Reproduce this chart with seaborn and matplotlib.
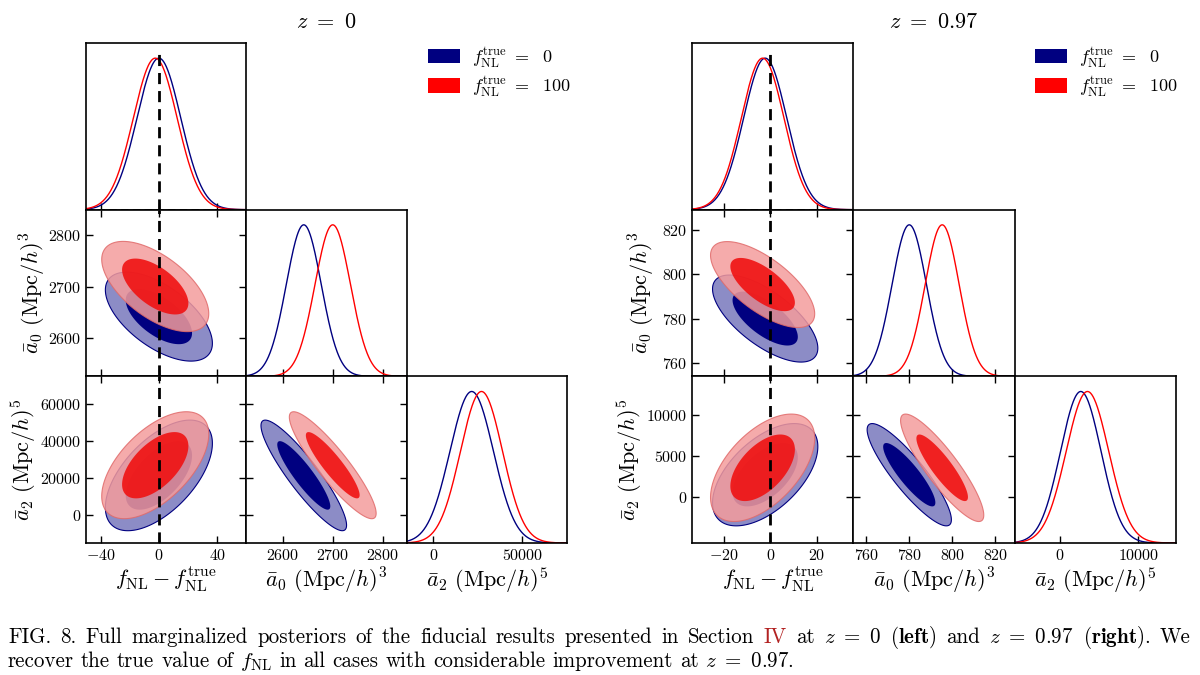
import numpy as np
import matplotlib
matplotlib.use("Agg")
import matplotlib.pyplot as plt
from matplotlib.patches import Patch
import seaborn as sns

# parameter order: fNL - fNL_true, a0, a2
# means, 1-sigma widths and correlations (fnl-a0, fnl-a2, a0-a2)
z0_mean_f0 = [0.0, 2642.0, 21500.0]
z0_sig_f0 = [15.0, 35.0, 12200.0]
z0_rho_f0 = [-0.6, 0.58, -0.9]
z0_mean_f100 = [-2.5, 2700.0, 27000.0]
z0_sig_f100 = [15.0, 35.5, 11800.0]
z0_rho_f100 = [-0.6, 0.58, -0.9]

z097_mean_f0 = [-2.2, 780.0, 2700.0]
z097_sig_f0 = [9.2, 8.0, 2570.0]
z097_rho_f0 = [-0.68, 0.55, -0.88]
z097_mean_f100 = [-3.3, 795.3, 3550.0]
z097_sig_f100 = [9.1, 7.9, 2700.0]
z097_rho_f100 = [-0.68, 0.55, -0.88]

z0_limits = [(-50, 60), (2527, 2848), (-15000, 75000)]
z0_xticks = [[-40, 0, 40], [2600, 2700, 2800], [0, 50000]]
z0_yticks = [[], [2600, 2700, 2800], [0, 20000, 40000, 60000]]

z097_limits = [(-33.5, 35.5), (754, 829), (-5700, 14800)]
z097_xticks = [[-20, 0, 20], [760, 780, 800, 820], [0, 10000]]
z097_yticks = [[], [760, 780, 800, 820], [0, 5000, 10000]]

labels = [r"$f_{\rm NL} - f_{\rm NL}^{\rm true}$",
          r"$\bar{a}_0\ (\mathrm{Mpc}/h)^3$",
          r"$\bar{a}_2\ (\mathrm{Mpc}/h)^5$"]
legend_labels = [r"$f_{\rm NL}^{\rm true}\ =\ \ 0$", r"$f_{\rm NL}^{\rm true}\ =\ \ 100$"]

caption_1 = ("FIG. 8. Full marginalized posteriors of the fiducial results presented in Section IV "
             r"at $z\ =\ 0$ ($\mathbf{left}$) and $z\ =\ 0.97$ ($\mathbf{right}$). We")
caption_2 = (r"recover the true value of $f_{\rm NL}$ in all cases with considerable "
             r"improvement at $z\ =\ 0.97$.")

# 68% and 95% levels of a 2D gaussian
levels = [np.sqrt(2.30), np.sqrt(5.99)]

navy = "#000080"
red = "#ff0000"
styles = {
    "f0": dict(line=navy, outer="#8c8cc6", outer_a=1.0, outer_ec=navy,
               inner=navy, inner_a=1.0),
    "f100": dict(line=red, outer="#f49c9c", outer_a=0.85, outer_ec="#e06a6a",
                 inner="#f01212", inner_a=0.9),
}

sns.set_style("ticks")
plt.rcParams.update({
    "font.family": "serif",
    "font.serif": ["cmr10", "DejaVu Serif"],
    "mathtext.fontset": "cm",
    "axes.formatter.use_mathtext": True,
    "axes.linewidth": 1.2,
    "axes.edgecolor": "black",
    "axes.labelcolor": "black",
    "text.color": "black",
    "xtick.color": "black",
    "ytick.color": "black",
})


def ellipse(mx, my, sx, sy, rho, r):
    t = np.linspace(0, 2 * np.pi, 240)
    u, v = r * np.cos(t), r * np.sin(t)
    return mx + sx * u, my + sy * (rho * u + np.sqrt(1 - rho ** 2) * v)


def corner(fig, left, right, runs, limits, xticks, yticks, ylab_x):
    gs = fig.add_gridspec(3, 3, left=left, right=right, top=1 - 43 / 675,
                          bottom=1 - 543 / 675, wspace=0, hspace=0)
    pair = {(0, 1): 0, (0, 2): 1, (1, 2): 2}
    for i in range(3):
        for j in range(i + 1):
            ax = fig.add_subplot(gs[i, j])
            ax.set_xlim(limits[j])
            if i == j:
                x = np.linspace(limits[j][0], limits[j][1], 400)
                for key, (mean, sig, rho) in runs:
                    y = np.exp(-0.5 * ((x - mean[j]) / sig[j]) ** 2)
                    sns.lineplot(x=x, y=y, ax=ax, color=styles[key]["line"],
                                 lw=1.0, errorbar=None)
                ax.set_ylim(0, 1.1)
                ax.set_yticks([])
                ax.set_xticks(xticks[j])
                ax.tick_params(axis="x", direction="in", length=5, width=1,
                               labelsize=11.5, bottom=True, top=False)
            else:
                for key, (mean, sig, rho) in runs:
                    st = styles[key]
                    r = rho[pair[(j, i)]]
                    xo, yo = ellipse(mean[j], mean[i], sig[j], sig[i], r, levels[1])
                    xi, yi = ellipse(mean[j], mean[i], sig[j], sig[i], r, levels[0])
                    ax.fill(xo, yo, fc=st["outer"], alpha=st["outer_a"],
                            ec=st["outer_ec"], lw=0.8)
                    ax.fill(xi, yi, fc=st["inner"], alpha=st["inner_a"], lw=0)
                ax.set_ylim(limits[i])
                ax.set_xticks(xticks[j])
                ax.set_yticks(yticks[i])
                ax.tick_params(direction="in", length=5, width=1, labelsize=11.5,
                               top=True, right=True, bottom=True, left=True)
            ax.ticklabel_format(useOffset=False, style="plain")
            if j == 0:
                ax.axvline(0, color="k", ls=(0, (4, 2.5)), lw=2,
                           ymax=0.97 if i == 0 else 1, zorder=5)
                if i == 0:
                    ax.axhline(0, color="k", ls=(0, (4, 2.5)), lw=1.3, zorder=5)
            if i == 2:
                ax.set_xlabel(labels[j], fontsize=16, labelpad=2)
            else:
                ax.set_xticklabels([])
            if j == 0 and i > 0:
                ax.set_ylabel(labels[i], fontsize=16)
                ax.yaxis.set_label_coords(ylab_x[i - 1], 0.5)
            elif i != j:
                ax.set_yticklabels([])
            for s in ax.spines.values():
                s.set_visible(True)
                s.set_color("black")
                s.set_linewidth(1.2)


fig = plt.figure(figsize=(12, 6.75), dpi=100)

left_runs = [("f0", (z0_mean_f0, z0_sig_f0, z0_rho_f0)),
             ("f100", (z0_mean_f100, z0_sig_f100, z0_rho_f100))]
right_runs = [("f0", (z097_mean_f0, z097_sig_f0, z097_rho_f0)),
              ("f100", (z097_mean_f100, z097_sig_f100, z097_rho_f100))]

corner(fig, 86 / 1200, 567 / 1200, left_runs, z0_limits, z0_xticks, z0_yticks,
       [-0.24, -0.3])
corner(fig, 692 / 1200, 1176 / 1200, right_runs, z097_limits, z097_xticks, z097_yticks,
       [-0.215, -0.3])

fig.text(0.2721, 0.967, r"$z\ =\ 0$", fontsize=16, ha="center", va="center")
fig.text(0.7783, 0.967, r"$z\ =\ 0.97$", fontsize=16, ha="center", va="center")

handles = [Patch(fc=navy, ec="none"), Patch(fc=red, ec="none")]
for xa in (428 / 1200, 1035 / 1200):
    fig.legend(handles, legend_labels, loc="upper left", bbox_to_anchor=(xa, 1 - 45 / 675),
               frameon=False, fontsize=13, handlelength=1.75, handleheight=0.85,
               labelspacing=0.25, handletextpad=0.7, borderaxespad=0, borderpad=0)

# caption: words laid out one by one so the first line is justified and "IV" is red
renderer = fig.canvas.get_renderer()
cap_size = 15.1


def caption_line(words, y, x0, x1=None):
    texts = [fig.text(0, y, w, fontsize=cap_size, va="baseline",
                      color="#b22222" if w == "IV" else "black") for w in words]
    widths = [t.get_window_extent(renderer).width / fig.bbox.width for t in texts]
    if x1 is None:
        gap = 0.333 * cap_size * 100 / 72 / 1200
    else:
        gap = (x1 - x0 - sum(widths)) / (len(words) - 1)
    x = x0
    for t, w in zip(texts, widths):
        t.set_x(x)
        x += w + gap


def split_words(s):
    out, cur, in_math = [], "", False
    for ch in s:
        if ch == "$":
            in_math = not in_math
        if ch == " " and not in_math:
            if cur:
                out.append(cur)
            cur = ""
        else:
            cur += ch
    if cur:
        out.append(cur)
    return out


caption_line(split_words(caption_1), 1 - 643 / 675, 8 / 1200, 1190 / 1200)
caption_line(split_words(caption_2), 1 - 667 / 675, 8 / 1200)

fig.savefig("out.png", dpi=100)
